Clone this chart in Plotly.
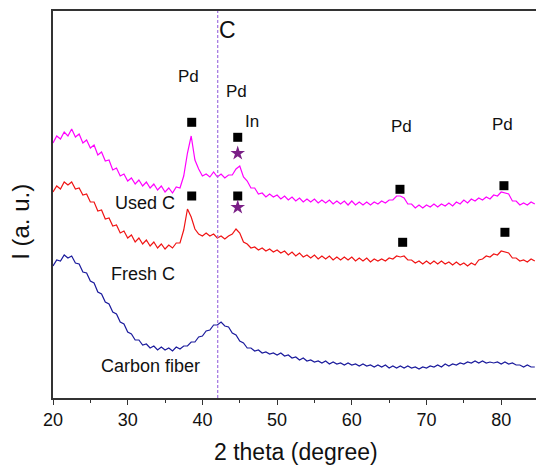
import plotly.graph_objects as go

# 2-theta grid (degree), 0.5 degree steps from 20 to 84.5
two_theta = [20 + 0.5 * i for i in range(130)]

used_c = [
    255, 262, 259, 266, 262, 269, 261, 264, 255, 258,
    250, 253, 243, 246, 237, 238, 228, 230, 222, 224,
    217, 220, 214, 218, 212, 216, 210, 214, 208, 212,
    206, 210, 205, 211, 210, 222, 245, 262, 238, 229,
    222, 224, 221, 226, 221, 224, 220, 223, 223, 229,
    232, 221, 217, 210, 210, 204, 205, 201, 204, 201,
    203, 199, 202, 198, 201, 197, 200, 196, 199, 196,
    199, 195, 198, 195, 198, 194, 197, 194, 197, 193,
    197, 193, 196, 193, 196, 193, 196, 194, 197, 195,
    198, 198, 202, 202, 200, 194, 194, 190, 193, 190,
    193, 191, 194, 191, 194, 192, 195, 192, 196, 194,
    198, 195, 199, 197, 200, 198, 201, 199, 203, 202,
    206, 205, 204, 197, 197, 193, 195, 193, 196, 194,
]

fresh_c = [
    206, 212, 209, 216, 213, 216, 209, 210, 203, 204,
    196, 196, 187, 188, 179, 180, 172, 173, 165, 167,
    160, 163, 156, 160, 154, 158, 152, 156, 150, 154,
    149, 153, 150, 155, 155, 168, 189, 181, 169, 164,
    162, 165, 162, 164, 160, 162, 159, 162, 164, 169,
    165, 156, 154, 150, 151, 148, 150, 147, 149, 146,
    148, 145, 147, 143, 146, 142, 145, 141, 143, 140,
    143, 139, 142, 139, 142, 138, 141, 138, 141, 138,
    141, 137, 140, 137, 140, 136, 139, 137, 139, 137,
    140, 139, 142, 141, 142, 138, 138, 135, 137, 134,
    137, 134, 137, 134, 137, 134, 136, 133, 136, 133,
    135, 132, 135, 133, 138, 139, 142, 141, 144, 143,
    147, 146, 145, 140, 140, 137, 138, 136, 139, 137,
]

carbon_fiber = [
    132, 138, 137, 143, 140, 142, 135, 134, 126, 125,
    117, 115, 106, 104, 96, 94, 86, 84, 76, 74,
    66, 64, 58, 58, 53, 54, 50, 52, 48, 51,
    48, 50, 47, 51, 49, 52, 52, 56, 56, 61,
    62, 67, 68, 73, 73, 76, 72, 71, 65, 63,
    57, 55, 50, 50, 47, 48, 45, 46, 44, 45,
    43, 45, 42, 43, 40, 41, 38, 40, 37, 38,
    36, 37, 35, 37, 34, 36, 34, 35, 33, 35,
    33, 34, 32, 34, 32, 33, 31, 33, 31, 33,
    30, 32, 30, 32, 30, 32, 30, 31, 29, 31,
    30, 32, 31, 33, 31, 34, 32, 34, 33, 35,
    34, 36, 35, 37, 35, 37, 35, 36, 35, 36,
    34, 36, 34, 35, 33, 33, 31, 33, 31, 31,
]

# Peak markers (Pd squares, In stars)
pd_used_x = [38.57, 44.73, 66.45, 80.37]
pd_used_y = [275.7, 260.7, 208.7, 212.3]
pd_fresh_x = [38.57, 44.73, 66.81, 80.5]
pd_fresh_y = [202, 202, 155.7, 165.7]
in_x = [44.73, 44.73]
in_y = [244.7, 190.7]

carbon_line_x = 42.05

FONT = "Liberation Sans, Arial, sans-serif"

fig = go.Figure()
fig.add_trace(go.Scatter(x=two_theta, y=carbon_fiber, mode="lines",
                         line=dict(color="#1a1a9c", width=1.2), showlegend=False))
fig.add_trace(go.Scatter(x=two_theta, y=fresh_c, mode="lines",
                         line=dict(color="#f01414", width=1.2), showlegend=False))
fig.add_trace(go.Scatter(x=two_theta, y=used_c, mode="lines",
                         line=dict(color="#ff00ff", width=1.2), showlegend=False))
fig.add_trace(go.Scatter(x=pd_used_x + pd_fresh_x, y=pd_used_y + pd_fresh_y, mode="markers",
                         marker=dict(symbol="square", size=9, color="black"), showlegend=False))
fig.add_trace(go.Scatter(x=in_x, y=in_y, mode="markers",
                         marker=dict(symbol="star", size=11, color="#7a1f86",
                                     line=dict(width=0)), showlegend=False))

fig.add_shape(type="line", xref="x", yref="paper", x0=carbon_line_x, x1=carbon_line_x,
              y0=0, y1=1, line=dict(color="#a070e0", width=1.2, dash="3px,2px"))

labels = [
    ("C", 43.3, 368, 23),
    ("Pd", 38.2, 322, 17),
    ("Pd", 44.5, 307, 17),
    ("In", 46.7, 277, 17),
    ("Pd", 66.7, 272, 17),
    ("Pd", 80.24, 274, 17),
    ("Used C", 32.3, 195, 18),
    ("Fresh C", 32.1, 124, 18),
    ("Carbon fiber", 33.0, 32, 18),
]
for text, x, y, size in labels:
    fig.add_annotation(x=x, y=y, xref="x", yref="y", text=text, showarrow=False,
                       font=dict(family=FONT, size=size, color="#111"),
                       xanchor="center", yanchor="middle")

fig.add_annotation(x=52.53, y=-0.1395, xref="x", yref="paper", text="2 theta (degree)",
                   showarrow=False, font=dict(family=FONT, size=23, color="#111"),
                   xanchor="center", yanchor="middle")
fig.add_annotation(x=-0.066, y=176.3, xref="paper", yref="y", text="I (a. u.)",
                   showarrow=False, textangle=-90,
                   font=dict(family=FONT, size=24, color="#111"),
                   xanchor="center", yanchor="middle")

fig.update_layout(
    width=536, height=468,
    margin=dict(l=53, r=0, t=11, b=70),
    plot_bgcolor="white", paper_bgcolor="white",
    font=dict(family=FONT, color="#111"),
    xaxis=dict(range=[20, 84.66], tickvals=[20, 30, 40, 50, 60, 70, 80],
               ticks="outside", ticklen=5, tickwidth=1.3, tickcolor="#333",
               showline=True, linecolor="#333", linewidth=1.5, mirror=True,
               showgrid=False, zeroline=False,
               tickfont=dict(family=FONT, size=18, color="#111"),
               minor=dict(dtick=5, tick0=0, ticks="outside", ticklen=3,
                          tickwidth=1.3, tickcolor="#333", showgrid=False)),
    yaxis=dict(range=[0, 387], showticklabels=False, ticks="",
               showline=True, linecolor="#333", linewidth=1.5, mirror=False,
               showgrid=False, zeroline=False),
)

fig.write_html("out.html", config={"displayModeBar": False},
               post_script="document.body.style.margin='0';document.body.style.overflow='hidden';")
